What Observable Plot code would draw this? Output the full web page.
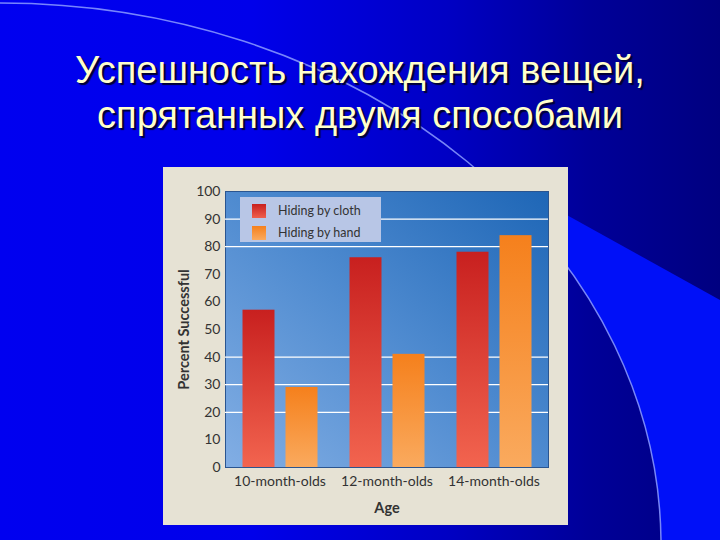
<!DOCTYPE html>
<html>
<head>
<meta charset="utf-8">
<script src="https://cdn.jsdelivr.net/npm/d3@7"></script>
<script src="https://cdn.jsdelivr.net/npm/@observablehq/plot@0.6"></script>
<style>
  html, body { margin: 0; padding: 0; width: 720px; height: 540px; overflow: hidden; background: #0000e0; }
  #bg { position: absolute; left: 0; top: 0; }
  #title {
    position: absolute; left: 0; top: 48px; width: 720px; text-align: center;
    font-family: "Liberation Sans", Arial, sans-serif; font-size: 38px; line-height: 45px;
    color: #ffffcc; text-shadow: 2px 2px 1px #000033;
  }
  #chart { position: absolute; left: 163px; top: 167px; width: 405px; height: 358px; }
  #legend {
    position: absolute; left: 77px; top: 30px; width: 141px; height: 45px;
    background: #b8c6e6; font-family: Lato, "Open Sans", sans-serif; font-size: 12.5px; color: #333;
  }
  .item { position: absolute; left: 12px; height: 14px; line-height: 14px; }
  .sw { display: inline-block; width: 14px; height: 14px; vertical-align: top; margin-right: 12px; }
</style>
</head>
<body>
<svg id="bg" width="720" height="540">
  <defs>
    <linearGradient id="pageBg" gradientUnits="userSpaceOnUse" x1="0" y1="0" x2="720" y2="0">
      <stop offset="0" stop-color="#0000f0"/>
      <stop offset="0.35" stop-color="#0000ea"/>
      <stop offset="0.62" stop-color="#0000c4"/>
      <stop offset="0.82" stop-color="#000098"/>
      <stop offset="1" stop-color="#000080"/>
    </linearGradient>
  </defs>
  <rect width="720" height="540" fill="url(#pageBg)"/>
  <polygon points="565,214 720,300 720,540 565,540" fill="#0010f8"/>
  <ellipse cx="0" cy="545" rx="661" ry="542" fill="url(#pageBg)" stroke="#8c9cff" stroke-width="1.5" stroke-opacity="0.85"/>
</svg>
<div id="title">Успешность нахождения вещей,<br>спрятанных двумя способами</div>
<div id="chart"></div>
<script>
const ages = ["10-month-olds", "12-month-olds", "14-month-olds"];
const seriesNames = ["Hiding by cloth", "Hiding by hand"];
const clothValues = [57, 76, 78];
const handValues = [29, 41, 84];
const yTicks = [0, 10, 20, 30, 40, 50, 60, 70, 80, 90, 100];
const gridValues = [20, 30, 40, 80, 90];

const clothRows = ages.map((age, i) => ({age, method: seriesNames[0], value: clothValues[i]}));
const handRows = ages.map((age, i) => ({age, method: seriesNames[1], value: handValues[i]}));

const svg = Plot.plot({
  width: 405,
  height: 358,
  marginLeft: 62,
  marginRight: 20,
  marginTop: 24,
  marginBottom: 58,
  style: {background: "#e6e2d4", fontFamily: "Lato, 'Open Sans', sans-serif", fontSize: "14px", color: "#333"},
  x: {domain: ages, padding: 0, label: "Age", labelAnchor: "center", labelOffset: 45, tickSize: 0, tickPadding: 9},
  y: {domain: [0, 100], ticks: yTicks, tickSize: 0, tickPadding: 5, label: "Percent Successful", labelAnchor: "center", labelOffset: 47, labelArrow: "none"},
  marks: [
    Plot.frame({fill: "url(#plotBg)", stroke: "#2a5590"}),
    Plot.ruleY(gridValues, {stroke: "white", strokeWidth: 1.2}),
    Plot.barY(clothRows, {x: "age", y: "value", fill: "url(#gradCloth)", insetLeft: 16.5, insetRight: 58.5}),
    Plot.barY(handRows, {x: "age", y: "value", fill: "url(#gradHand)", insetLeft: 59.5, insetRight: 15.5})
  ]
});

d3.select(svg).insert("defs", ":first-child").html(`
  <linearGradient id="plotBg" x1="0" y1="1" x2="1" y2="0">
    <stop offset="0" stop-color="#82aee4"/>
    <stop offset="0.5" stop-color="#4f8bd0"/>
    <stop offset="1" stop-color="#1e66b6"/>
  </linearGradient>
  <linearGradient id="gradCloth" x1="0" y1="0" x2="0" y2="1">
    <stop offset="0" stop-color="#c8201f"/>
    <stop offset="1" stop-color="#f2644f"/>
  </linearGradient>
  <linearGradient id="gradHand" x1="0" y1="0" x2="0" y2="1">
    <stop offset="0" stop-color="#f5801c"/>
    <stop offset="1" stop-color="#faaa5e"/>
  </linearGradient>
`);
const labels = d3.select(svg).selectAll('[aria-label$="axis label"]');
labels.attr("font-weight", "bold").attr("font-size", 14.5);
labels.selectAll("text").each(function() {
  const t = d3.select(this);
  t.text(t.text().replace(/\s*[→↑←↓]\s*/g, ""));
});

const chart = document.getElementById("chart");
chart.appendChild(svg);

const legend = document.createElement("div");
legend.id = "legend";
const swatchBg = [
  "linear-gradient(#c8201f, #ef5f4c)",
  "linear-gradient(#f5801c, #faaa5e)"
];
seriesNames.forEach((name, i) => {
  const item = document.createElement("div");
  item.className = "item";
  item.style.top = (7 + i * 22) + "px";
  const sw = document.createElement("span");
  sw.className = "sw";
  sw.style.background = swatchBg[i];
  item.appendChild(sw);
  item.appendChild(document.createTextNode(name));
  legend.appendChild(item);
});
chart.appendChild(legend);
</script>
</body>
</html>
